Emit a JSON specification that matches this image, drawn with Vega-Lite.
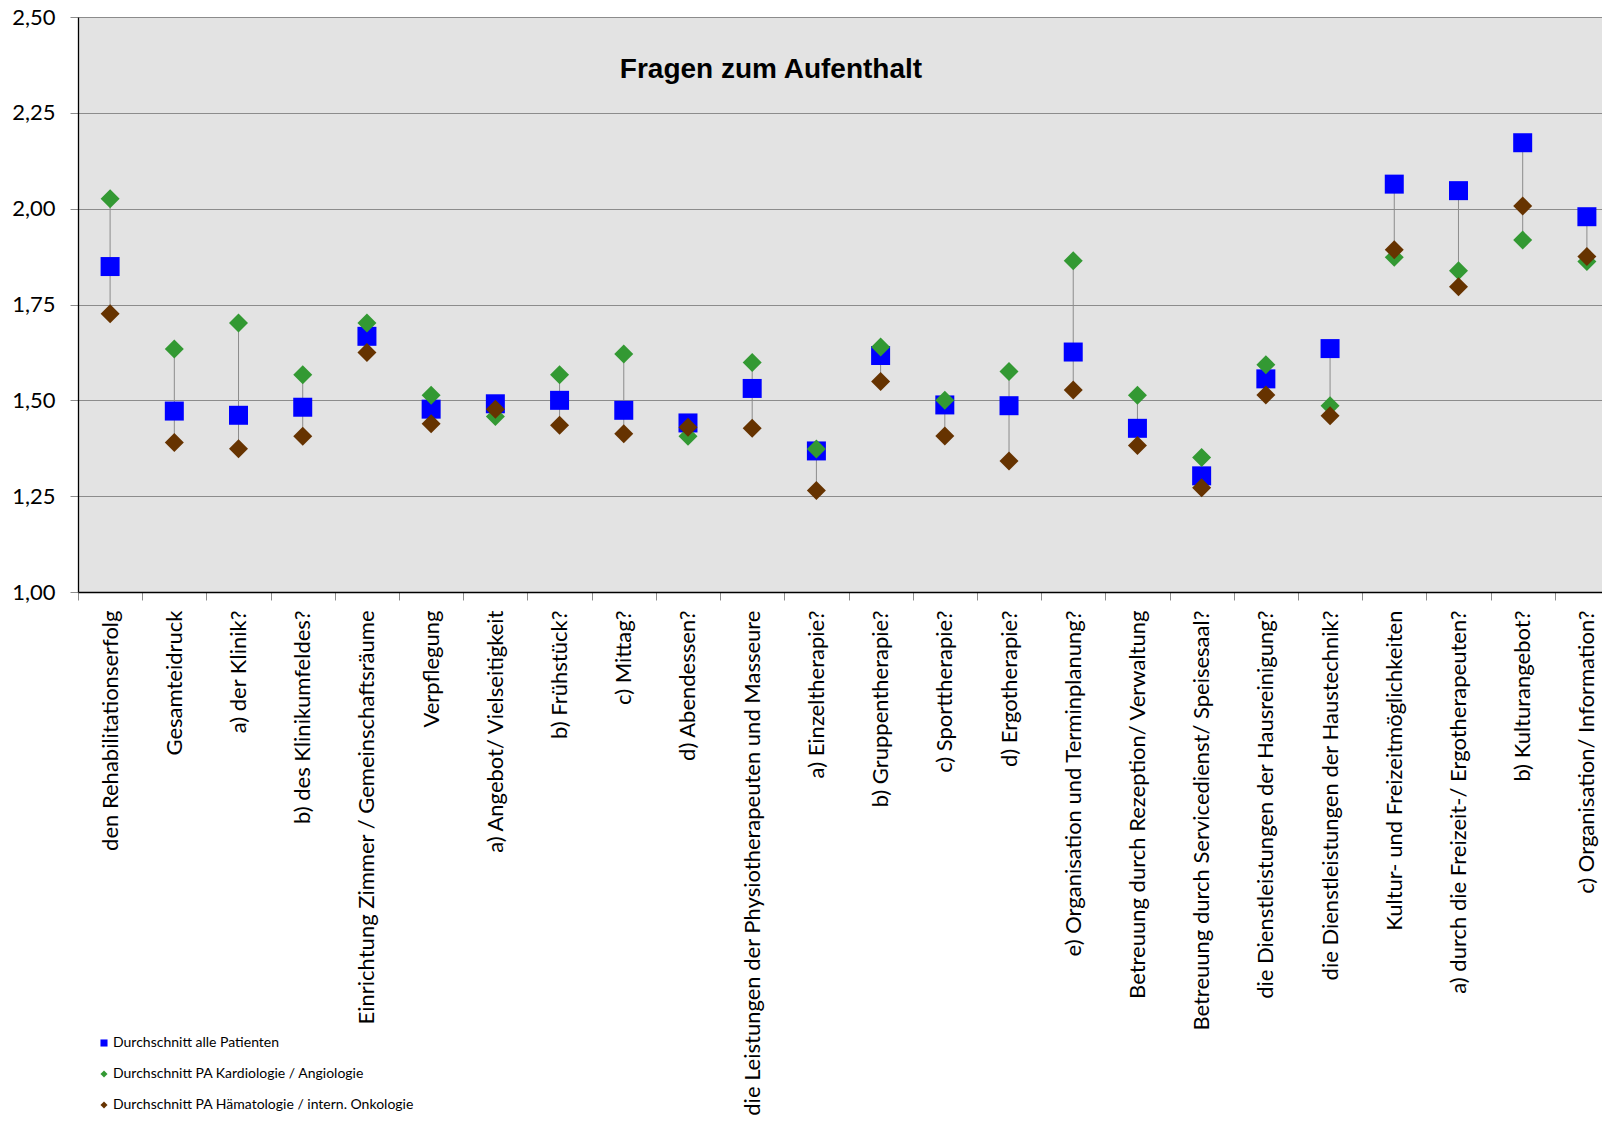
{
  "$schema": "https://vega.github.io/schema/vega-lite/v6.json",
  "autosize": {"type": "none"},
  "padding": {"left": 78, "top": 17, "right": 0, "bottom": 532},
  "width": 1524,
  "height": 575,
  "background": "white",
  "title": {"text": "Fragen zum Aufenthalt", "font": "Liberation Sans", "fontSize": 28, "fontWeight": "bold", "color": "black", "anchor": "middle", "frame": "group", "dx": -69, "baseline": "alphabetic", "offset": -100},
  "config": {
    "view": {"fill": "#E3E3E3", "stroke": null},
    "axis": {"labelFont": "Lato", "labelFontSize": 22, "labelColor": "black", "title": null, "tickColor": "#8C8C8C", "tickSize": 8, "domainColor": "black", "domainWidth": 1.3}
  },
  "data": {"values": [
    {"frage": "den Rehabilitationserfolg", "serie": "Durchschnitt alle Patienten", "wert": 1.849},
    {"frage": "den Rehabilitationserfolg", "serie": "Durchschnitt PA Kardiologie / Angiologie", "wert": 2.026},
    {"frage": "den Rehabilitationserfolg", "serie": "Durchschnitt PA Hämatologie / intern. Onkologie", "wert": 1.726},
    {"frage": "Gesamteidruck", "serie": "Durchschnitt alle Patienten", "wert": 1.472},
    {"frage": "Gesamteidruck", "serie": "Durchschnitt PA Kardiologie / Angiologie", "wert": 1.634},
    {"frage": "Gesamteidruck", "serie": "Durchschnitt PA Hämatologie / intern. Onkologie", "wert": 1.390},
    {"frage": "a) der Klinik?", "serie": "Durchschnitt alle Patienten", "wert": 1.461},
    {"frage": "a) der Klinik?", "serie": "Durchschnitt PA Kardiologie / Angiologie", "wert": 1.702},
    {"frage": "a) der Klinik?", "serie": "Durchschnitt PA Hämatologie / intern. Onkologie", "wert": 1.374},
    {"frage": "b) des Klinikumfeldes?", "serie": "Durchschnitt alle Patienten", "wert": 1.482},
    {"frage": "b) des Klinikumfeldes?", "serie": "Durchschnitt PA Kardiologie / Angiologie", "wert": 1.567},
    {"frage": "b) des Klinikumfeldes?", "serie": "Durchschnitt PA Hämatologie / intern. Onkologie", "wert": 1.406},
    {"frage": "Einrichtung Zimmer / Gemeinschaftsräume", "serie": "Durchschnitt alle Patienten", "wert": 1.667},
    {"frage": "Einrichtung Zimmer / Gemeinschaftsräume", "serie": "Durchschnitt PA Kardiologie / Angiologie", "wert": 1.702},
    {"frage": "Einrichtung Zimmer / Gemeinschaftsräume", "serie": "Durchschnitt PA Hämatologie / intern. Onkologie", "wert": 1.625},
    {"frage": "Verpflegung", "serie": "Durchschnitt alle Patienten", "wert": 1.477},
    {"frage": "Verpflegung", "serie": "Durchschnitt PA Kardiologie / Angiologie", "wert": 1.513},
    {"frage": "Verpflegung", "serie": "Durchschnitt PA Hämatologie / intern. Onkologie", "wert": 1.439},
    {"frage": "a) Angebot/ Vielseitigkeit", "serie": "Durchschnitt alle Patienten", "wert": 1.491},
    {"frage": "a) Angebot/ Vielseitigkeit", "serie": "Durchschnitt PA Kardiologie / Angiologie", "wert": 1.458},
    {"frage": "a) Angebot/ Vielseitigkeit", "serie": "Durchschnitt PA Hämatologie / intern. Onkologie", "wert": 1.477},
    {"frage": "b) Frühstück?", "serie": "Durchschnitt alle Patienten", "wert": 1.500},
    {"frage": "b) Frühstück?", "serie": "Durchschnitt PA Kardiologie / Angiologie", "wert": 1.567},
    {"frage": "b) Frühstück?", "serie": "Durchschnitt PA Hämatologie / intern. Onkologie", "wert": 1.435},
    {"frage": "c) Mittag?", "serie": "Durchschnitt alle Patienten", "wert": 1.474},
    {"frage": "c) Mittag?", "serie": "Durchschnitt PA Kardiologie / Angiologie", "wert": 1.621},
    {"frage": "c) Mittag?", "serie": "Durchschnitt PA Hämatologie / intern. Onkologie", "wert": 1.413},
    {"frage": "d) Abendessen?", "serie": "Durchschnitt alle Patienten", "wert": 1.441},
    {"frage": "d) Abendessen?", "serie": "Durchschnitt PA Kardiologie / Angiologie", "wert": 1.406},
    {"frage": "d) Abendessen?", "serie": "Durchschnitt PA Hämatologie / intern. Onkologie", "wert": 1.430},
    {"frage": "die Leistungen der Physiotherapeuten und Masseure", "serie": "Durchschnitt alle Patienten", "wert": 1.531},
    {"frage": "die Leistungen der Physiotherapeuten und Masseure", "serie": "Durchschnitt PA Kardiologie / Angiologie", "wert": 1.599},
    {"frage": "die Leistungen der Physiotherapeuten und Masseure", "serie": "Durchschnitt PA Hämatologie / intern. Onkologie", "wert": 1.427},
    {"frage": "a) Einzeltherapie?", "serie": "Durchschnitt alle Patienten", "wert": 1.368},
    {"frage": "a) Einzeltherapie?", "serie": "Durchschnitt PA Kardiologie / Angiologie", "wert": 1.373},
    {"frage": "a) Einzeltherapie?", "serie": "Durchschnitt PA Hämatologie / intern. Onkologie", "wert": 1.265},
    {"frage": "b) Gruppentherapie?", "serie": "Durchschnitt alle Patienten", "wert": 1.617},
    {"frage": "b) Gruppentherapie?", "serie": "Durchschnitt PA Kardiologie / Angiologie", "wert": 1.639},
    {"frage": "b) Gruppentherapie?", "serie": "Durchschnitt PA Hämatologie / intern. Onkologie", "wert": 1.549},
    {"frage": "c) Sporttherapie?", "serie": "Durchschnitt alle Patienten", "wert": 1.488},
    {"frage": "c) Sporttherapie?", "serie": "Durchschnitt PA Kardiologie / Angiologie", "wert": 1.500},
    {"frage": "c) Sporttherapie?", "serie": "Durchschnitt PA Hämatologie / intern. Onkologie", "wert": 1.407},
    {"frage": "d) Ergotherapie?", "serie": "Durchschnitt alle Patienten", "wert": 1.486},
    {"frage": "d) Ergotherapie?", "serie": "Durchschnitt PA Kardiologie / Angiologie", "wert": 1.575},
    {"frage": "d) Ergotherapie?", "serie": "Durchschnitt PA Hämatologie / intern. Onkologie", "wert": 1.342},
    {"frage": "e) Organisation und Terminplanung?", "serie": "Durchschnitt alle Patienten", "wert": 1.626},
    {"frage": "e) Organisation und Terminplanung?", "serie": "Durchschnitt PA Kardiologie / Angiologie", "wert": 1.864},
    {"frage": "e) Organisation und Terminplanung?", "serie": "Durchschnitt PA Hämatologie / intern. Onkologie", "wert": 1.527},
    {"frage": "Betreuung durch Rezeption/ Verwaltung", "serie": "Durchschnitt alle Patienten", "wert": 1.427},
    {"frage": "Betreuung durch Rezeption/ Verwaltung", "serie": "Durchschnitt PA Kardiologie / Angiologie", "wert": 1.513},
    {"frage": "Betreuung durch Rezeption/ Verwaltung", "serie": "Durchschnitt PA Hämatologie / intern. Onkologie", "wert": 1.382},
    {"frage": "Betreuung durch Servicedienst/ Speisesaal?", "serie": "Durchschnitt alle Patienten", "wert": 1.303},
    {"frage": "Betreuung durch Servicedienst/ Speisesaal?", "serie": "Durchschnitt PA Kardiologie / Angiologie", "wert": 1.351},
    {"frage": "Betreuung durch Servicedienst/ Speisesaal?", "serie": "Durchschnitt PA Hämatologie / intern. Onkologie", "wert": 1.272},
    {"frage": "die Dienstleistungen der Hausreinigung?", "serie": "Durchschnitt alle Patienten", "wert": 1.556},
    {"frage": "die Dienstleistungen der Hausreinigung?", "serie": "Durchschnitt PA Kardiologie / Angiologie", "wert": 1.593},
    {"frage": "die Dienstleistungen der Hausreinigung?", "serie": "Durchschnitt PA Hämatologie / intern. Onkologie", "wert": 1.514},
    {"frage": "die Dienstleistungen der Haustechnik?", "serie": "Durchschnitt alle Patienten", "wert": 1.635},
    {"frage": "die Dienstleistungen der Haustechnik?", "serie": "Durchschnitt PA Kardiologie / Angiologie", "wert": 1.486},
    {"frage": "die Dienstleistungen der Haustechnik?", "serie": "Durchschnitt PA Hämatologie / intern. Onkologie", "wert": 1.460},
    {"frage": "Kultur- und Freizeitmöglichkeiten", "serie": "Durchschnitt alle Patienten", "wert": 2.064},
    {"frage": "Kultur- und Freizeitmöglichkeiten", "serie": "Durchschnitt PA Kardiologie / Angiologie", "wert": 1.873},
    {"frage": "Kultur- und Freizeitmöglichkeiten", "serie": "Durchschnitt PA Hämatologie / intern. Onkologie", "wert": 1.893},
    {"frage": "a) durch die Freizeit-/ Ergotherapeuten?", "serie": "Durchschnitt alle Patienten", "wert": 2.047},
    {"frage": "a) durch die Freizeit-/ Ergotherapeuten?", "serie": "Durchschnitt PA Kardiologie / Angiologie", "wert": 1.838},
    {"frage": "a) durch die Freizeit-/ Ergotherapeuten?", "serie": "Durchschnitt PA Hämatologie / intern. Onkologie", "wert": 1.796},
    {"frage": "b) Kulturangebot?", "serie": "Durchschnitt alle Patienten", "wert": 2.172},
    {"frage": "b) Kulturangebot?", "serie": "Durchschnitt PA Kardiologie / Angiologie", "wert": 1.918},
    {"frage": "b) Kulturangebot?", "serie": "Durchschnitt PA Hämatologie / intern. Onkologie", "wert": 2.007},
    {"frage": "c) Organisation/ Information?", "serie": "Durchschnitt alle Patienten", "wert": 1.979},
    {"frage": "c) Organisation/ Information?", "serie": "Durchschnitt PA Kardiologie / Angiologie", "wert": 1.862},
    {"frage": "c) Organisation/ Information?", "serie": "Durchschnitt PA Hämatologie / intern. Onkologie", "wert": 1.875}
  ]},
  "encoding": {
    "x": {
      "field": "frage", "type": "nominal", "sort": null,
      "scale": {
        "domain": ["den Rehabilitationserfolg", "Gesamteidruck", "a) der Klinik?", "b) des Klinikumfeldes?", "Einrichtung Zimmer / Gemeinschaftsräume", "Verpflegung", "a) Angebot/ Vielseitigkeit", "b) Frühstück?", "c) Mittag?", "d) Abendessen?", "die Leistungen der Physiotherapeuten und Masseure", "a) Einzeltherapie?", "b) Gruppentherapie?", "c) Sporttherapie?", "d) Ergotherapie?", "e) Organisation und Terminplanung?", "Betreuung durch Rezeption/ Verwaltung", "Betreuung durch Servicedienst/ Speisesaal?", "die Dienstleistungen der Hausreinigung?", "die Dienstleistungen der Haustechnik?", "Kultur- und Freizeitmöglichkeiten", "a) durch die Freizeit-/ Ergotherapeuten?", "b) Kulturangebot?", "c) Organisation/ Information?"],
        "range": [0, 1541],
        "paddingInner": 0, "paddingOuter": 0
      },
      "axis": {"labelAngle": -90, "labelAlign": "right", "labelBaseline": "middle", "labelPadding": 10, "labelLimit": 700, "tickBand": "extent", "grid": false}
    }
  },
  "layer": [
    {
      "mark": {"type": "rule", "color": "#8C8C8C", "strokeWidth": 1},
      "encoding": {
        "y": {"aggregate": "min", "field": "wert", "type": "quantitative", "scale": {"domain": [1, 2.5], "nice": false, "zero": false}},
        "y2": {"aggregate": "max", "field": "wert"}
      }
    },
    {
      "mark": {"type": "point", "filled": true, "opacity": 1, "size": 361, "strokeWidth": 0},
      "encoding": {
        "y": {
          "field": "wert", "type": "quantitative",
          "scale": {"domain": [1, 2.5], "nice": false, "zero": false},
          "axis": {"values": [1, 1.25, 1.5, 1.75, 2, 2.25, 2.5], "labelExpr": "replace(format(datum.value, '.2f'), '.', ',')", "labelPadding": 15, "grid": true, "gridColor": "#8C8C8C", "gridWidth": 1, "domainColor": "black"}
        },
        "color": {
          "field": "serie", "type": "nominal",
          "scale": {"domain": ["Durchschnitt alle Patienten", "Durchschnitt PA Kardiologie / Angiologie", "Durchschnitt PA Hämatologie / intern. Onkologie"], "range": ["#0000FF", "#339933", "#663300"]},
          "legend": {"orient": "none", "legendX": 19, "legendY": 1019, "direction": "vertical", "title": null, "labelFont": "Lato", "labelFontSize": 14, "labelColor": "black", "symbolSize": 50, "rowPadding": 17, "labelOffset": 2, "labelLimit": 500}
        },
        "shape": {
          "field": "serie", "type": "nominal",
          "scale": {"domain": ["Durchschnitt alle Patienten", "Durchschnitt PA Kardiologie / Angiologie", "Durchschnitt PA Hämatologie / intern. Onkologie"], "range": ["square", "diamond", "diamond"]}
        }
      }
    }
  ]
}
